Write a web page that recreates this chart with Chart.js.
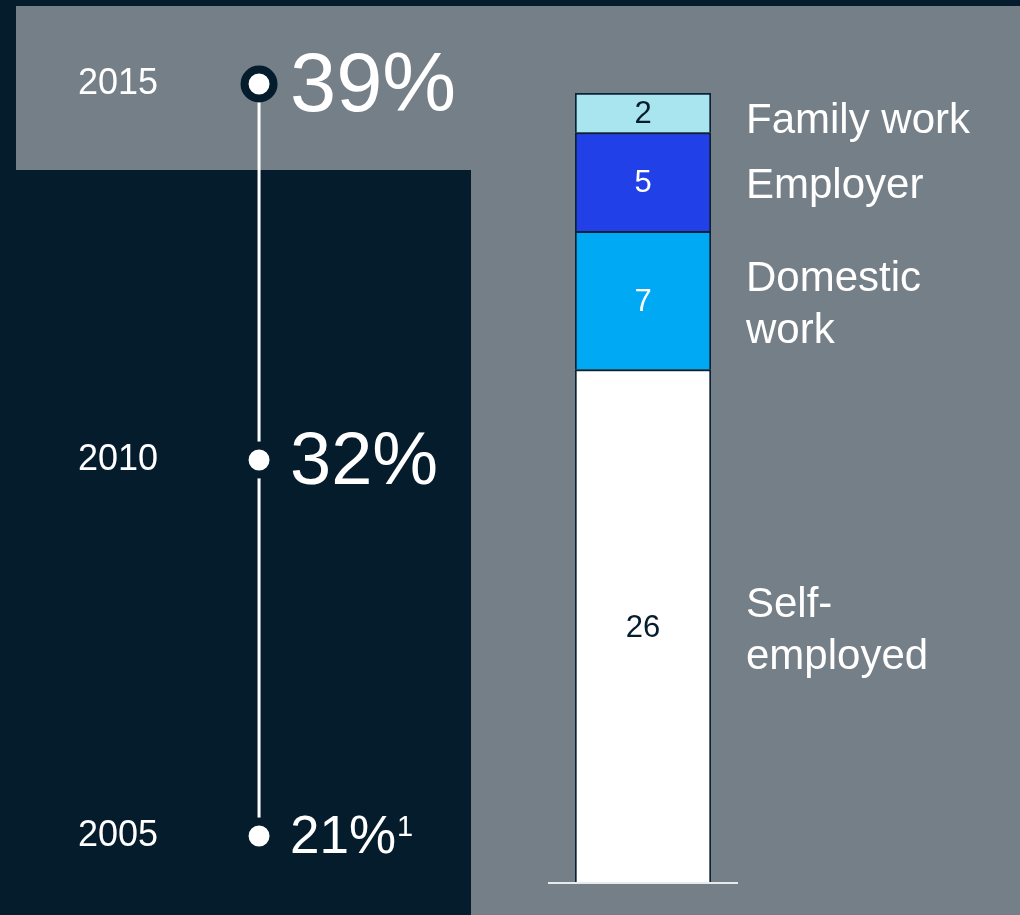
<!DOCTYPE html>
<html>
<head>
<meta charset="utf-8">
<script src="https://cdn.jsdelivr.net/npm/chart.js@4.4.1/dist/chart.umd.min.js"></script>
<style>
  html, body { margin: 0; padding: 0; }
  body { width: 1020px; height: 915px; background: #051c2c; position: relative; overflow: hidden; }
  .panel { position: absolute; background: #757f87; }
  #topPanel { left: 16px; top: 6px; width: 1004px; height: 164px; }
  #sidePanel { left: 471px; top: 170px; width: 549px; height: 745px; }
  canvas { position: absolute; top: 0; }
  #timeline { left: 0; }
  #stack { left: 471px; }
</style>
</head>
<body>
<div class="panel" id="topPanel"></div>
<div class="panel" id="sidePanel"></div>
<canvas id="timeline" width="471" height="915"></canvas>
<canvas id="stack" width="549" height="915"></canvas>
<script>
const years = [2005, 2010, 2015];
const shares = [21, 32, 39];
const shareNotes = ['1', '', ''];

const segments = ['Self-employed', 'Domestic work', 'Employer', 'Family work'];
const segmentLines = [['Self-', 'employed'], ['Domestic', 'work'], ['Employer'], ['Family work']];
const segmentValues = [26, 7, 5, 2];

const FONT = 'Arial, "Liberation Sans", sans-serif';
const DARK = '#051c2c';

Chart.defaults.font.family = FONT;

// percentage labels next to each point of the timeline
const shareLabels = {
    id: 'shareLabels',
    afterDatasetsDraw(chart, args, opts) {
        const ctx = chart.ctx;
        const pts = chart.getDatasetMeta(0).data;
        ctx.save();
        ctx.fillStyle = '#fff';
        ctx.textBaseline = 'middle';
        ctx.textAlign = 'left';
        pts.forEach((p, i) => {
            const size = opts.sizes[i];
            const txt = shares[i] + '%';
            const x = p.x + 31;
            const y = p.y + size * 0.05;
            ctx.font = size + 'px ' + FONT;
            ctx.fillText(txt, x, y);
            if (shareNotes[i]) {
                const w = ctx.measureText(txt).width;
                ctx.font = Math.round(size * 0.55) + 'px ' + FONT;
                ctx.fillText(shareNotes[i], x + w + 1, y - size * 0.2);
            }
        });
        ctx.restore();
    }
};

new Chart(document.getElementById('timeline'), {
    type: 'scatter',
    data: {
        datasets: [{
            data: years.map(y => ({ x: 0, y: y })),
            showLine: true,
            borderColor: '#ffffff',
            borderWidth: 3,
            pointRadius: 14.5,
            pointBackgroundColor: '#ffffff',
            pointBorderColor: DARK,
            pointBorderWidth: 8,
            clip: false
        }]
    },
    options: {
        responsive: false,
        animation: false,
        events: [],
        layout: { padding: { left: 58, right: 139, top: 84, bottom: 79 } },
        scales: {
            x: { display: false, min: -1, max: 1 },
            y: {
                min: years[0],
                max: years[years.length - 1],
                afterBuildTicks: (scale) => { scale.ticks = years.map(v => ({ value: v })); },
                ticks: {
                    callback: (v) => String(v),
                    color: '#ffffff',
                    font: { size: 36 },
                    padding: 20
                },
                grid: { display: false },
                border: { display: false }
            }
        },
        plugins: {
            legend: { display: false },
            tooltip: { enabled: false },
            shareLabels: { sizes: [53, 74, 83] }
        }
    },
    plugins: [shareLabels]
});

// values inside the segments, names to the right, baseline under the bar
const stackLabels = {
    id: 'stackLabels',
    afterDatasetsDraw(chart, args, opts) {
        const ctx = chart.ctx;
        ctx.save();
        ctx.textBaseline = 'middle';
        let left = 0, right = 0;
        chart.data.datasets.forEach((ds, i) => {
            const bar = chart.getDatasetMeta(i).data[0];
            const mid = (bar.y + bar.base) / 2;
            left = bar.x - bar.width / 2;
            right = bar.x + bar.width / 2;
            ctx.textAlign = 'center';
            ctx.fillStyle = opts.valueColors[i];
            ctx.font = '31px ' + FONT;
            ctx.fillText(String(ds.data[0]), bar.x, mid + 2);

            const lines = segmentLines[i];
            const lh = 52;
            const top = mid + opts.nudge[i] - (lines.length - 1) * lh / 2;
            ctx.textAlign = 'left';
            ctx.fillStyle = '#ffffff';
            ctx.font = '42px ' + FONT;
            lines.forEach((t, j) => ctx.fillText(t, right + 35, top + j * lh));
        });
        const y0 = chart.scales.y.getPixelForValue(0);
        ctx.strokeStyle = '#e8eaec';
        ctx.lineWidth = 2;
        ctx.beginPath();
        ctx.moveTo(left - 27, y0);
        ctx.lineTo(right + 27, y0);
        ctx.stroke();
        ctx.restore();
    }
};

new Chart(document.getElementById('stack'), {
    type: 'bar',
    data: {
        labels: ['2015'],
        datasets: segments.map((name, i) => ({
            label: name,
            data: [segmentValues[i]],
            backgroundColor: ['#ffffff', '#00a9f4', '#2140e8', '#a9e5ef'][i],
            borderColor: '#0a2233',
            borderWidth: 2,
            barPercentage: 1,
            categoryPercentage: 1
        }))
    },
    options: {
        responsive: false,
        animation: false,
        events: [],
        layout: { padding: { left: 104, right: 309, top: 93, bottom: 32 } },
        scales: {
            x: { stacked: true, display: false },
            y: {
                stacked: true,
                display: false,
                min: 0,
                max: segmentValues.reduce((a, b) => a + b, 0)
            }
        },
        plugins: {
            legend: { display: false },
            tooltip: { enabled: false },
            stackLabels: {
                valueColors: [DARK, '#ffffff', '#ffffff', DARK],
                nudge: [5, 5, 5, 9]
            }
        }
    },
    plugins: [stackLabels]
});
</script>
</body>
</html>
